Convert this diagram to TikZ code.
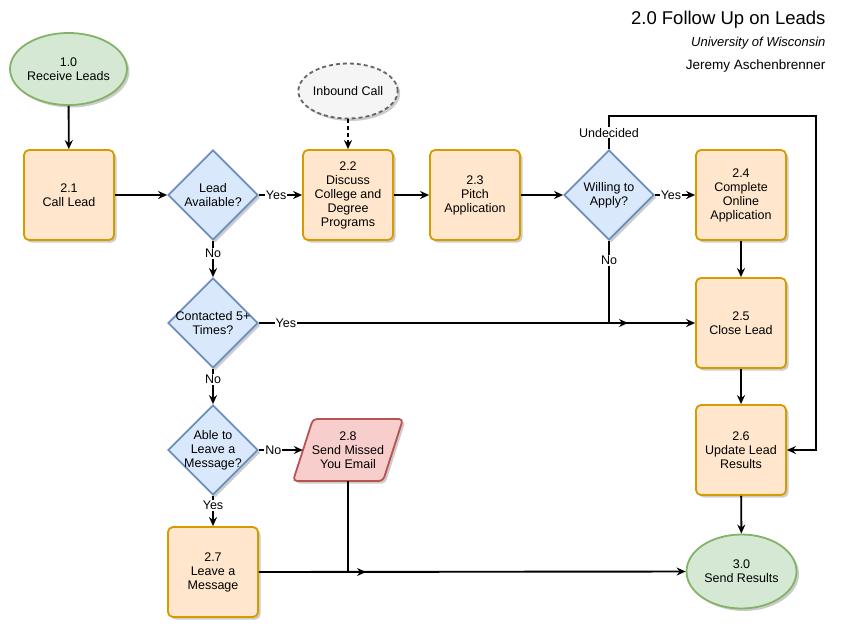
\documentclass[tikz,border=0pt]{standalone}
\usepackage{fontspec}
\setmainfont{Liberation Sans}
\usetikzlibrary{shapes.geometric,arrows.meta,shadows}
\definecolor{ofill}{HTML}{FFE6CC}\definecolor{ostroke}{HTML}{D79B00}
\definecolor{gfill}{HTML}{D5E8D4}\definecolor{gstroke}{HTML}{82B366}
\definecolor{bfill}{HTML}{DAE8FC}\definecolor{bstroke}{HTML}{6C8EBF}
\definecolor{rfill}{HTML}{F8CECC}\definecolor{rstroke}{HTML}{B85450}
\definecolor{kfill}{HTML}{F5F5F5}\definecolor{kstroke}{HTML}{666666}
\begin{document}
\begin{tikzpicture}[x=1pt,y=-1pt,font=\fontsize{12.5}{14}\selectfont,
 shad/.style={drop shadow={shadow xshift=2.5pt,shadow yshift=-2.5pt,opacity=0.2,fill=black}},
 proc/.style={rectangle,rounded corners=5pt,draw=ostroke,fill=ofill,line width=1.8pt,minimum width=90pt,minimum height=90pt,align=center,inner sep=2pt,shad},
 dec/.style={diamond,draw=bstroke,fill=bfill,line width=1.8pt,minimum width=90pt,minimum height=90pt,inner sep=0pt,shad},
 term/.style={ellipse,draw=gstroke,fill=gfill,line width=1.8pt,minimum width=110pt,align=center,inner sep=0pt,shad},
 arr/.style={-{Stealth[length=9pt,width=8pt,inset=3pt]},line width=1.9pt},
 lab/.style={fill=white,inner sep=1pt}]
\useasboundingbox (0,0) rectangle (849,641);
% title
\node[anchor=east,font=\fontsize{18.5}{20}\selectfont] (title) at (829,20) {2.0 Follow Up on Leads};
\node[anchor=east,font=\fontsize{13}{15}\selectfont\itshape] (uni) at (829,43) {University of Wisconsin};
\node[anchor=east,font=\fontsize{13.5}{15}\selectfont] (auth) at (829,66) {Jeremy Aschenbrenner};
% nodes
\node[term,minimum height=72pt] (n10) at (68.5,69) {1.0\\Receive Leads};
\node[ellipse,draw=kstroke,fill=kfill,line width=1.8pt,dash pattern=on 4pt off 3pt,minimum width=90pt,minimum height=55pt,inner sep=0pt,shad] (inb) at (348,91) {Inbound Call};
\node[proc] (n21) at (69,195) {2.1\\Call Lead};
\node[dec,label={[align=center]center:Lead\\Available?}] (d1) at (213,195) {};
\node[proc] (n22) at (348,195) {2.2\\Discuss\\College and\\Degree\\Programs};
\node[proc] (n23) at (475,195) {2.3\\Pitch\\Application};
\node[dec,label={[align=center]center:Willing to\\Apply?}] (d2) at (609,195) {};
\node[proc] (n24) at (741,195) {2.4\\Complete\\Online\\Application};
\node[dec,label={[align=center]center:Contacted 5+\\Times?}] (d3) at (213,323) {};
\node[proc] (n25) at (741,323) {2.5\\Close Lead};
\node[dec,label={[align=center]center:Able to\\Leave a\\Message?}] (d4) at (213,450) {};
\path[draw=rstroke,fill=rfill,line width=1.8pt,rounded corners=4pt,shad] (313,419) -- (403,419) -- (383,481) -- (293,481) -- cycle;
\node[rectangle,minimum width=90pt,minimum height=62pt,align=center,inner sep=0pt] (p8) at (348,450) {2.8\\Send Missed\\You Email};
\node[proc] (n26) at (741,450) {2.6\\Update Lead\\Results};
\node[proc] (n27) at (213,572) {2.7\\Leave a\\Message};
\node[term,minimum height=74pt] (n30) at (741.5,571.5) {3.0\\Send Results};
% connectors
\draw[arr] (n10) -- (n21);
\draw[arr] (n21) -- (d1);
\draw[arr] (d1.east) -- node[lab,pos=0.4]{Yes} (n22.west);
\draw[arr,dash pattern=on 4pt off 3pt] (inb) -- (n22);
\draw[arr] (n22) -- (n23);
\draw[arr] (n23) -- (d2);
\draw[arr] (d2.east) -- node[lab,pos=0.4]{Yes} (n24.west);
\coordinate (u1) at (816,116);
\draw[arr] (d2.north) -- node[lab]{Undecided} (d2.north |- u1) -- (u1) |- (n26.east);
\draw[arr] (d2.south) -- node[lab,pos=0.24]{No} (d2.south |- n25) -- (n25.west);
\coordinate (j1) at (628,323);
\draw[arr] (d3.east) -- node[lab,pos=0.073]{Yes} (j1);
\draw[arr] (d1.south) -- node[lab,pos=0.34]{No} (d3.north);
\draw[arr] (d3.south) -- node[lab,pos=0.3]{No} (d4.north);
\draw[arr] (d4.south) -- node[lab,pos=0.31]{Yes} (n27.north);
\draw[arr] (d4.east) -- node[lab,pos=0.33]{No} (p8.west);
\coordinate (j2) at (366,572);
\draw[arr] (p8.south) |- (j2);
\draw[arr] (n27.east) -- (n30.west);
\draw[arr] (n24) -- (n25);
\draw[arr] (n25) -- (n26);
\draw[arr] (n26) -- (n30);
\end{tikzpicture}
\end{document}
